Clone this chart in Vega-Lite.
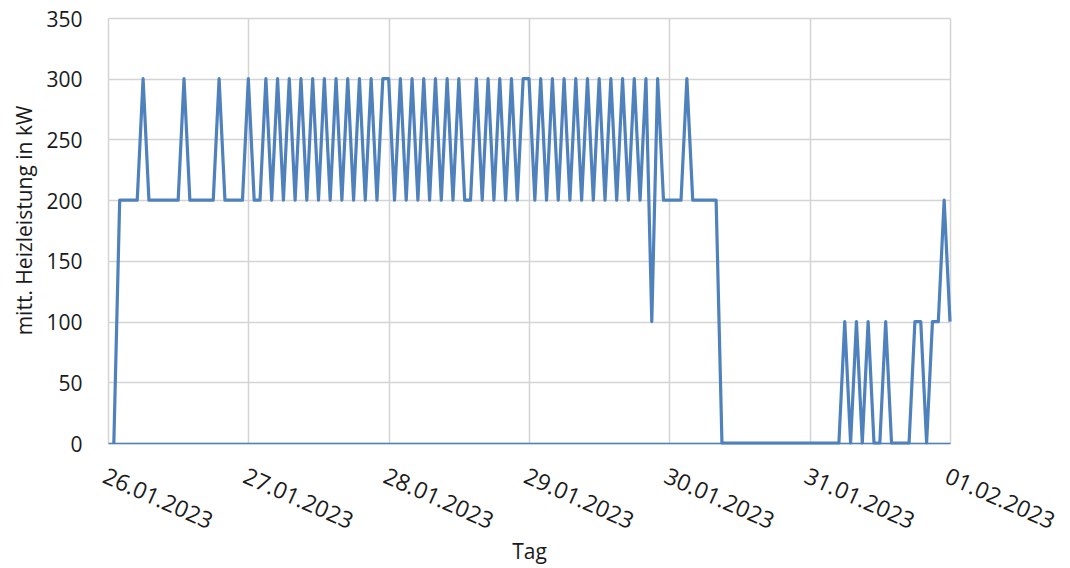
{
  "$schema": "https://vega.github.io/schema/vega-lite/v6.json",
  "width": 842,
  "height": 425,
  "autosize": "none",
  "padding": {"left": 108, "top": 18, "right": 120, "bottom": 125},
  "background": "white",
  "config": {"view": {"stroke": null}, "font": "Open Sans"},
  "data": {
    "values": [
      {"t": "2023-01-26T01:00Z", "kW": 0},
      {"t": "2023-01-26T02:00Z", "kW": 200},
      {"t": "2023-01-26T03:00Z", "kW": 200},
      {"t": "2023-01-26T04:00Z", "kW": 200},
      {"t": "2023-01-26T05:00Z", "kW": 200},
      {"t": "2023-01-26T06:00Z", "kW": 300},
      {"t": "2023-01-26T07:00Z", "kW": 200},
      {"t": "2023-01-26T08:00Z", "kW": 200},
      {"t": "2023-01-26T09:00Z", "kW": 200},
      {"t": "2023-01-26T10:00Z", "kW": 200},
      {"t": "2023-01-26T11:00Z", "kW": 200},
      {"t": "2023-01-26T12:00Z", "kW": 200},
      {"t": "2023-01-26T13:00Z", "kW": 300},
      {"t": "2023-01-26T14:00Z", "kW": 200},
      {"t": "2023-01-26T15:00Z", "kW": 200},
      {"t": "2023-01-26T16:00Z", "kW": 200},
      {"t": "2023-01-26T17:00Z", "kW": 200},
      {"t": "2023-01-26T18:00Z", "kW": 200},
      {"t": "2023-01-26T19:00Z", "kW": 300},
      {"t": "2023-01-26T20:00Z", "kW": 200},
      {"t": "2023-01-26T21:00Z", "kW": 200},
      {"t": "2023-01-26T22:00Z", "kW": 200},
      {"t": "2023-01-26T23:00Z", "kW": 200},
      {"t": "2023-01-27T00:00Z", "kW": 300},
      {"t": "2023-01-27T01:00Z", "kW": 200},
      {"t": "2023-01-27T02:00Z", "kW": 200},
      {"t": "2023-01-27T03:00Z", "kW": 300},
      {"t": "2023-01-27T04:00Z", "kW": 200},
      {"t": "2023-01-27T05:00Z", "kW": 300},
      {"t": "2023-01-27T06:00Z", "kW": 200},
      {"t": "2023-01-27T07:00Z", "kW": 300},
      {"t": "2023-01-27T08:00Z", "kW": 200},
      {"t": "2023-01-27T09:00Z", "kW": 300},
      {"t": "2023-01-27T10:00Z", "kW": 200},
      {"t": "2023-01-27T11:00Z", "kW": 300},
      {"t": "2023-01-27T12:00Z", "kW": 200},
      {"t": "2023-01-27T13:00Z", "kW": 300},
      {"t": "2023-01-27T14:00Z", "kW": 200},
      {"t": "2023-01-27T15:00Z", "kW": 300},
      {"t": "2023-01-27T16:00Z", "kW": 200},
      {"t": "2023-01-27T17:00Z", "kW": 300},
      {"t": "2023-01-27T18:00Z", "kW": 200},
      {"t": "2023-01-27T19:00Z", "kW": 300},
      {"t": "2023-01-27T20:00Z", "kW": 200},
      {"t": "2023-01-27T21:00Z", "kW": 300},
      {"t": "2023-01-27T22:00Z", "kW": 200},
      {"t": "2023-01-27T23:00Z", "kW": 300},
      {"t": "2023-01-28T00:00Z", "kW": 300},
      {"t": "2023-01-28T01:00Z", "kW": 200},
      {"t": "2023-01-28T02:00Z", "kW": 300},
      {"t": "2023-01-28T03:00Z", "kW": 200},
      {"t": "2023-01-28T04:00Z", "kW": 300},
      {"t": "2023-01-28T05:00Z", "kW": 200},
      {"t": "2023-01-28T06:00Z", "kW": 300},
      {"t": "2023-01-28T07:00Z", "kW": 200},
      {"t": "2023-01-28T08:00Z", "kW": 300},
      {"t": "2023-01-28T09:00Z", "kW": 200},
      {"t": "2023-01-28T10:00Z", "kW": 300},
      {"t": "2023-01-28T11:00Z", "kW": 200},
      {"t": "2023-01-28T12:00Z", "kW": 300},
      {"t": "2023-01-28T13:00Z", "kW": 200},
      {"t": "2023-01-28T14:00Z", "kW": 200},
      {"t": "2023-01-28T15:00Z", "kW": 300},
      {"t": "2023-01-28T16:00Z", "kW": 200},
      {"t": "2023-01-28T17:00Z", "kW": 300},
      {"t": "2023-01-28T18:00Z", "kW": 200},
      {"t": "2023-01-28T19:00Z", "kW": 300},
      {"t": "2023-01-28T20:00Z", "kW": 200},
      {"t": "2023-01-28T21:00Z", "kW": 300},
      {"t": "2023-01-28T22:00Z", "kW": 200},
      {"t": "2023-01-28T23:00Z", "kW": 300},
      {"t": "2023-01-29T00:00Z", "kW": 300},
      {"t": "2023-01-29T01:00Z", "kW": 200},
      {"t": "2023-01-29T02:00Z", "kW": 300},
      {"t": "2023-01-29T03:00Z", "kW": 200},
      {"t": "2023-01-29T04:00Z", "kW": 300},
      {"t": "2023-01-29T05:00Z", "kW": 200},
      {"t": "2023-01-29T06:00Z", "kW": 300},
      {"t": "2023-01-29T07:00Z", "kW": 200},
      {"t": "2023-01-29T08:00Z", "kW": 300},
      {"t": "2023-01-29T09:00Z", "kW": 200},
      {"t": "2023-01-29T10:00Z", "kW": 300},
      {"t": "2023-01-29T11:00Z", "kW": 200},
      {"t": "2023-01-29T12:00Z", "kW": 300},
      {"t": "2023-01-29T13:00Z", "kW": 200},
      {"t": "2023-01-29T14:00Z", "kW": 300},
      {"t": "2023-01-29T15:00Z", "kW": 200},
      {"t": "2023-01-29T16:00Z", "kW": 300},
      {"t": "2023-01-29T17:00Z", "kW": 200},
      {"t": "2023-01-29T18:00Z", "kW": 300},
      {"t": "2023-01-29T19:00Z", "kW": 200},
      {"t": "2023-01-29T20:00Z", "kW": 300},
      {"t": "2023-01-29T21:00Z", "kW": 100},
      {"t": "2023-01-29T22:00Z", "kW": 300},
      {"t": "2023-01-29T23:00Z", "kW": 200},
      {"t": "2023-01-30T00:00Z", "kW": 200},
      {"t": "2023-01-30T01:00Z", "kW": 200},
      {"t": "2023-01-30T02:00Z", "kW": 200},
      {"t": "2023-01-30T03:00Z", "kW": 300},
      {"t": "2023-01-30T04:00Z", "kW": 200},
      {"t": "2023-01-30T05:00Z", "kW": 200},
      {"t": "2023-01-30T06:00Z", "kW": 200},
      {"t": "2023-01-30T07:00Z", "kW": 200},
      {"t": "2023-01-30T08:00Z", "kW": 200},
      {"t": "2023-01-30T09:00Z", "kW": 0},
      {"t": "2023-01-30T10:00Z", "kW": 0},
      {"t": "2023-01-30T11:00Z", "kW": 0},
      {"t": "2023-01-30T12:00Z", "kW": 0},
      {"t": "2023-01-30T13:00Z", "kW": 0},
      {"t": "2023-01-30T14:00Z", "kW": 0},
      {"t": "2023-01-30T15:00Z", "kW": 0},
      {"t": "2023-01-30T16:00Z", "kW": 0},
      {"t": "2023-01-30T17:00Z", "kW": 0},
      {"t": "2023-01-30T18:00Z", "kW": 0},
      {"t": "2023-01-30T19:00Z", "kW": 0},
      {"t": "2023-01-30T20:00Z", "kW": 0},
      {"t": "2023-01-30T21:00Z", "kW": 0},
      {"t": "2023-01-30T22:00Z", "kW": 0},
      {"t": "2023-01-30T23:00Z", "kW": 0},
      {"t": "2023-01-31T00:00Z", "kW": 0},
      {"t": "2023-01-31T01:00Z", "kW": 0},
      {"t": "2023-01-31T02:00Z", "kW": 0},
      {"t": "2023-01-31T03:00Z", "kW": 0},
      {"t": "2023-01-31T04:00Z", "kW": 0},
      {"t": "2023-01-31T05:00Z", "kW": 0},
      {"t": "2023-01-31T06:00Z", "kW": 100},
      {"t": "2023-01-31T07:00Z", "kW": 0},
      {"t": "2023-01-31T08:00Z", "kW": 100},
      {"t": "2023-01-31T09:00Z", "kW": 0},
      {"t": "2023-01-31T10:00Z", "kW": 100},
      {"t": "2023-01-31T11:00Z", "kW": 0},
      {"t": "2023-01-31T12:00Z", "kW": 0},
      {"t": "2023-01-31T13:00Z", "kW": 100},
      {"t": "2023-01-31T14:00Z", "kW": 0},
      {"t": "2023-01-31T15:00Z", "kW": 0},
      {"t": "2023-01-31T16:00Z", "kW": 0},
      {"t": "2023-01-31T17:00Z", "kW": 0},
      {"t": "2023-01-31T18:00Z", "kW": 100},
      {"t": "2023-01-31T19:00Z", "kW": 100},
      {"t": "2023-01-31T20:00Z", "kW": 0},
      {"t": "2023-01-31T21:00Z", "kW": 100},
      {"t": "2023-01-31T22:00Z", "kW": 100},
      {"t": "2023-01-31T23:00Z", "kW": 200},
      {"t": "2023-02-01T00:00Z", "kW": 100}
    ]
  },
  "mark": {"type": "line", "color": "#4f81bd", "strokeWidth": 3.2, "strokeJoin": "round", "clip": false},
  "encoding": {
    "x": {
      "field": "t",
      "type": "temporal",
      "scale": {
        "type": "utc",
        "domain": [
          {"year": 2023, "month": 1, "date": 26, "utc": true},
          {"year": 2023, "month": 2, "date": 1, "utc": true}
        ]
      },
      "axis": {
        "values": [
          {"year": 2023, "month": 1, "date": 26, "utc": true},
          {"year": 2023, "month": 1, "date": 27, "utc": true},
          {"year": 2023, "month": 1, "date": 28, "utc": true},
          {"year": 2023, "month": 1, "date": 29, "utc": true},
          {"year": 2023, "month": 1, "date": 30, "utc": true},
          {"year": 2023, "month": 1, "date": 31, "utc": true},
          {"year": 2023, "month": 2, "date": 1, "utc": true}
        ],
        "labelExpr": "utcFormat(datum.value, '%d.%m.%Y')",
        "labelAngle": 24,
        "labelAlign": "left",
        "labelBaseline": "top",
        "labelPadding": 22,
        "labelFlush": false,
        "labelOverlap": false,
        "labelFontSize": 23,
        "labelColor": "#1a1a1a",
        "ticks": false,
        "grid": true,
        "gridColor": "#d4d4d4",
        "gridWidth": 1.5,
        "domainColor": "#4f81bd",
        "domainWidth": 1.5,
        "title": "Tag",
        "titleFontSize": 21,
        "titleFontWeight": "normal",
        "titleColor": "#1a1a1a",
        "titleX": 421,
        "titleY": 109,
        "titleAlign": "center",
        "titleBaseline": "middle"
      }
    },
    "y": {
      "field": "kW",
      "type": "quantitative",
      "scale": {"domain": [0, 350], "nice": false},
      "axis": {
        "values": [0, 50, 100, 150, 200, 250, 300, 350],
        "labelFontSize": 21,
        "labelColor": "#1a1a1a",
        "labelPadding": 26,
        "labelOffset": 2,
        "ticks": false,
        "domain": false,
        "grid": true,
        "gridColor": "#d4d4d4",
        "gridWidth": 1.5,
        "title": "mitt. Heizleistung in kW",
        "titleFontSize": 21,
        "titleFontWeight": "normal",
        "titleColor": "#1a1a1a",
        "titleAngle": -90,
        "titleX": -83,
        "titleY": 202,
        "titleAlign": "center",
        "titleBaseline": "middle"
      }
    }
  }
}
